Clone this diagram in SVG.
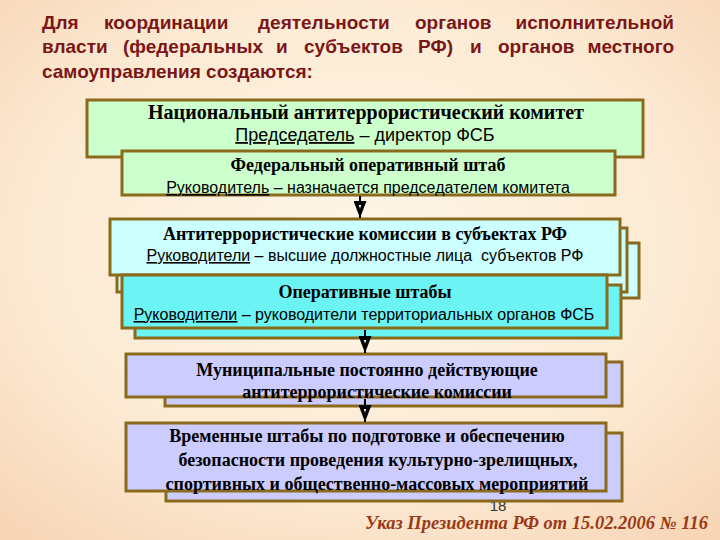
<svg xmlns="http://www.w3.org/2000/svg" width="720" height="540" viewBox="0 0 720 540">
<defs>
<radialGradient id="bg" cx="50%" cy="45%" r="75%">
<stop offset="0" stop-color="#FEF6E8"/>
<stop offset="0.6" stop-color="#FCEAD3"/>
<stop offset="1" stop-color="#F7D3B3"/>
</radialGradient>
<marker id="arr" markerWidth="17" markerHeight="13" refX="17" refY="6.5" orient="auto" markerUnits="userSpaceOnUse" viewBox="0 0 17 13">
<path d="M0,0 L17,6.5 L0,13 Z" fill="#000"/>
<path d="M4,5.3 L7.5,6.5 L4,7.7 Z" fill="#fff"/>
</marker>
<style>
.box{stroke:#8A6A1C;stroke-width:3}
.g{fill:#CCFFCC}
.c{fill:#CCFFFF}
.o{fill:#6CF3F3}
.l{fill:#CCCCFF}
.t{font-family:"Liberation Serif","Times New Roman",serif;font-weight:bold;fill:#000;text-anchor:middle}
.s{font-family:"Liberation Sans",Arial,sans-serif;fill:#000;text-anchor:middle}
.h{font-family:"Liberation Sans",Arial,sans-serif;font-weight:bold;font-size:19px;fill:#7A1616}
.conn{stroke:#000;stroke-width:2;fill:none}
</style>
</defs>
<rect width="720" height="540" fill="url(#bg)"/>
<g id="title">
<text class="h" y="29"><tspan x="42">Для</tspan><tspan x="104">координации</tspan><tspan x="258">деятельности</tspan><tspan x="415">органов</tspan><tspan x="674" text-anchor="end">исполнительной</tspan></text>
<text class="h" y="53"><tspan x="42">власти</tspan><tspan x="123">(федеральных</tspan><tspan x="276">и</tspan><tspan x="304">субъектов</tspan><tspan x="418">РФ)</tspan><tspan x="470">и</tspan><tspan x="498">органов</tspan><tspan x="674" text-anchor="end">местного</tspan></text>
<text class="h" x="42" y="78">самоуправления создаются:</text>
</g>
<text id="page-number" x="498" y="511" font-family="Liberation Sans, Arial, sans-serif" font-size="15" fill="#333" text-anchor="middle">18</text>
<g id="node-nak">
<rect class="box g" x="87" y="100" width="556" height="57"/>
<text class="t" x="366" y="119" font-size="20">Национальный антитеррористический комитет</text>
<text class="s" x="365" y="141" font-size="18"><tspan text-decoration="underline">Председатель</tspan> – директор ФСБ</text>
</g>
<g id="node-fosh">
<rect class="box g" x="122" y="151" width="493" height="44"/>
<text class="t" x="368" y="171" font-size="18">Федеральный оперативный штаб</text>
<text class="s" x="368" y="193" font-size="16"><tspan text-decoration="underline">Руководитель</tspan> – назначается председателем комитета</text>
</g>
<g id="node-commissions">
<rect class="box c" x="132" y="243" width="507" height="55"/>
<rect class="box c" x="117" y="228" width="510" height="64"/>
<rect class="box c" x="110" y="219" width="510" height="56"/>
<text class="t" x="365" y="240" font-size="18">Антитеррористические комиссии в субъектах РФ</text>
<text class="s" x="365" y="261" font-size="16" xml:space="preserve"><tspan text-decoration="underline">Руководители</tspan> – высшие должностные лица  субъектов РФ</text>
</g>
<g id="node-operative">
<rect class="box o" x="135" y="285" width="486" height="53"/>
<rect class="box o" x="122" y="275" width="485" height="53"/>
<text class="t" x="365" y="298" font-size="18">Оперативные штабы</text>
<text class="s" x="364" y="320" font-size="16"><tspan text-decoration="underline">Руководители</tspan> – руководители территориальных органов ФСБ</text>
</g>
<g id="node-municipal">
<rect class="box l" x="165" y="362" width="457" height="44"/>
<rect class="box l" x="126" y="354" width="480" height="43"/>
<text class="t" x="367" y="376" font-size="18">Муниципальные постоянно действующие</text>
<text class="t" x="377" y="398" font-size="18">антитеррористические комиссии</text>
</g>
<g id="node-temporary">
<rect class="box l" x="166" y="433" width="456" height="68"/>
<rect class="box l" x="126" y="423" width="480" height="68"/>
<text class="t" x="367" y="442" font-size="18">Временные штабы по подготовке и обеспечению</text>
<text class="t" x="378" y="466" font-size="18">безопасности проведения культурно-зрелищных,</text>
<text class="t" x="377" y="490" font-size="18">спортивных и общественно-массовых мероприятий</text>
</g>
<g id="connectors">
<line class="conn" x1="360" y1="196" x2="360" y2="218" marker-end="url(#arr)"/>
<line class="conn" x1="365" y1="330" x2="365" y2="353" marker-end="url(#arr)"/>
<line class="conn" x1="365" y1="399" x2="365" y2="422" marker-end="url(#arr)"/>
</g>
<text id="footer" x="708" y="529" font-family="Liberation Serif, Times New Roman, serif" font-weight="bold" font-style="italic" font-size="18.5" fill="#9A3A16" text-anchor="end">Указ Президента РФ от 15.02.2006 № 116</text>
</svg>
